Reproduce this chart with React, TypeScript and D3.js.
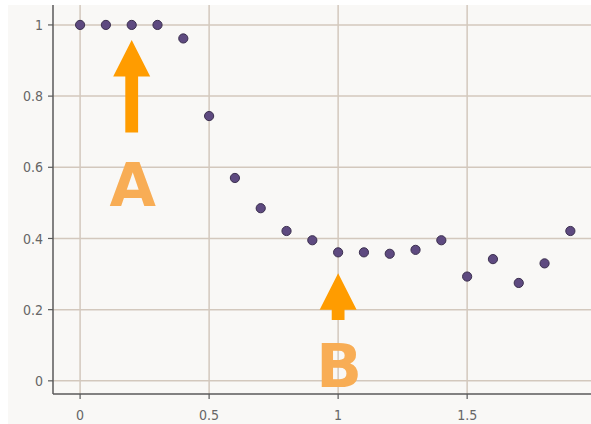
import React from "react";
import * as d3 from "d3";

const xValues = [0, 0.1, 0.2, 0.3, 0.4, 0.5, 0.6, 0.7, 0.8, 0.9, 1.0, 1.1, 1.2, 1.3, 1.4, 1.5, 1.6, 1.7, 1.8, 1.9];
const yValues = [1, 1, 1, 1, 0.962, 0.744, 0.57, 0.485, 0.421, 0.395, 0.361, 0.361, 0.357, 0.368, 0.395, 0.293, 0.342, 0.275, 0.33, 0.421];
const xTicks = [0, 0.5, 1, 1.5];
const xTickLabels = ["0", "0.5", "1", "1.5"];
const yTicks = [0, 0.2, 0.4, 0.6, 0.8, 1];
const yTickLabels = ["0", "0.2", "0.4", "0.6", "0.8", "1"];

// annotation arrows: x position, tail value, tip value
const arrowX = [0.2, 1.0];
const arrowTail = [0.698, 0.171];
const arrowTip = [0.958, 0.302];
const annotLabels = ["A", "B"];
const annotLabelY = [0.491, -0.018];

const W = 591;
const H = 424;
const plot = { left: 53, right: 591, top: 5, bottom: 394 };

export default function App() {
  const x = d3.scaleLinear().domain([-0.105, 1.98]).range([plot.left, plot.right]);
  const y = d3.scaleLinear().domain([-0.037, 1.056]).range([plot.bottom, plot.top]);

  const arrowPath = (i: number) => {
    const cx = x(arrowX[i]);
    const tipY = y(arrowTip[i]);
    const tailY = y(arrowTail[i]);
    const headLen = 36.5;
    const headHalf = 18.5;
    const shaftHalf = 6.4;
    const baseY = tipY + headLen;
    return d3.line()([
      [cx, tipY],
      [cx + headHalf, baseY],
      [cx + shaftHalf, baseY],
      [cx + shaftHalf, tailY],
      [cx - shaftHalf, tailY],
      [cx - shaftHalf, baseY],
      [cx - headHalf, baseY],
    ]) + "Z";
  };

  const tickFont = "'DejaVu Sans Condensed', 'Liberation Sans', sans-serif";

  return (
    <svg width={W} height={H} style={{ position: "absolute", left: 0, top: 0, background: "#ffffff" }}>
      <rect x={8} y={plot.top} width={W - 8} height={H - plot.top} fill="#f9f8f6" />
      {/* grid */}
      {xTicks.map((t) => (
        <line key={"gx" + t} x1={x(t)} x2={x(t)} y1={plot.top} y2={plot.bottom} stroke="#d3c8bd" strokeWidth={1.5} />
      ))}
      {yTicks.map((t) => (
        <line key={"gy" + t} x1={plot.left} x2={plot.right} y1={y(t)} y2={y(t)} stroke="#d3c8bd" strokeWidth={1.5} />
      ))}
      {/* axes */}
      <line x1={plot.left} x2={plot.left} y1={plot.top} y2={plot.bottom} stroke="#5a5a5a" strokeWidth={1.5} />
      <line x1={plot.left} x2={plot.right} y1={plot.bottom} y2={plot.bottom} stroke="#5a5a5a" strokeWidth={1.5} />
      {yTicks.map((t, i) => (
        <g key={"ty" + t}>
          <line x1={plot.left - 5} x2={plot.left} y1={y(t)} y2={y(t)} stroke="#5a5a5a" strokeWidth={1.2} />
          <text x={plot.left - 10} y={y(t)} dy="0.36em" textAnchor="end" fontFamily={tickFont} fontSize={14} fill="#666">
            {yTickLabels[i]}
          </text>
        </g>
      ))}
      {xTicks.map((t, i) => (
        <g key={"tx" + t}>
          <line x1={x(t)} x2={x(t)} y1={plot.bottom} y2={plot.bottom + 5} stroke="#5a5a5a" strokeWidth={1.2} />
          <text x={x(t)} y={420} textAnchor="middle" fontFamily={tickFont} fontSize={14} fill="#666">
            {xTickLabels[i]}
          </text>
        </g>
      ))}
      {/* annotations */}
      {arrowX.map((_, i) => (
        <path key={"ar" + i} d={arrowPath(i)} fill="#ff9c00" />
      ))}
      {annotLabels.map((s, i) => (
        <text
          key={"lb" + i}
          x={x(arrowX[i]) + 1}
          y={y(annotLabelY[i])}
          textAnchor="middle"
          fontFamily="'DejaVu Sans', sans-serif"
          fontWeight="bold"
          fontSize={60}
          fill="#f8ad55"
        >
          {s}
        </text>
      ))}
      {/* data points */}
      {xValues.map((v, i) => (
        <circle key={"p" + i} cx={x(v)} cy={y(yValues[i])} r={4.6} fill="#5e4a80" stroke="#3b2f4e" strokeWidth={1} />
      ))}
    </svg>
  );
}
